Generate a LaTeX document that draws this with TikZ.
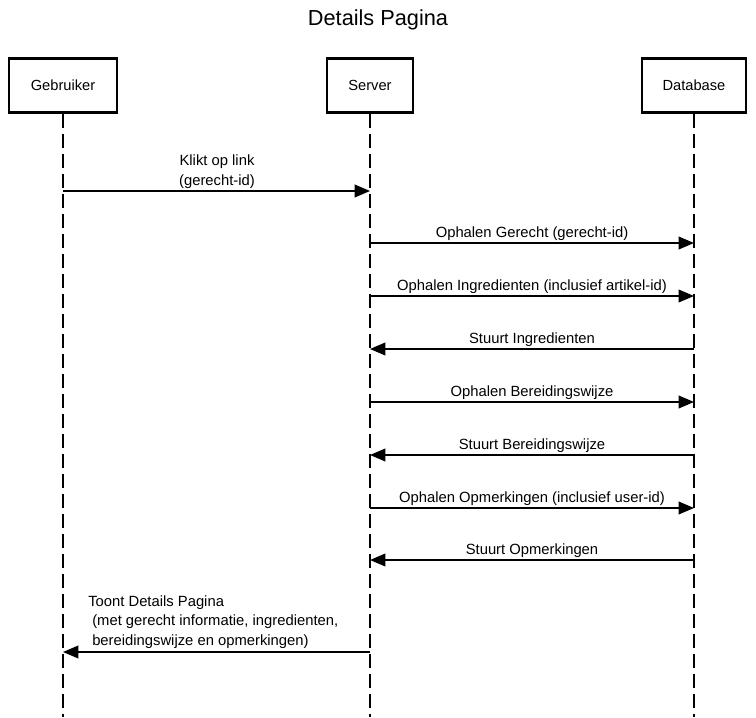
\documentclass[tikz,border=0pt]{standalone}
\usepackage{fontspec}
\setmainfont{Liberation Sans}
\usetikzlibrary{arrows.meta}
\begin{document}
\begin{tikzpicture}[x=0.75pt,y=-0.75pt,
 actor/.style={draw, line width=2.2pt, minimum height=40pt, font=\fontsize{11}{12}\selectfont, inner sep=0pt},
 life/.style={line width=1.1pt, dash pattern=on 10.5pt off 4.5pt},
 msg/.style={line width=1.2pt, -{Triangle[length=11.5pt,width=9.5pt]}},
 lbl/.style={font=\fontsize{11.1}{14.6}\selectfont, inner sep=0pt}]
\useasboundingbox[fill=white] (0,0) rectangle (756,717);
\node[font=\fontsize{16.3}{19}\selectfont] (title) at (378,20) {Details Pagina};
\node[actor, minimum width=81pt] (g) at (63,85.5) {Gebruiker};
\node[actor, minimum width=64.5pt] (s) at (370,85.5) {Server};
\node[actor, minimum width=78pt] (d) at (694,85.5) {Database};
\coordinate (gend) at (63,717);
\coordinate (send) at (370,717);
\coordinate (dend) at (694,717);
\draw[life] (g.south) -- (gend);
\draw[life] (s.south) -- (send);
\draw[life] (d.south) -- (dend);
% message points
\foreach \n/\y in {1/191,2/243,3/296,4/349,5/402,6/455,7/508,8/560,9/652}{
  \coordinate (g\n) at (63,\y);
  \coordinate (s\n) at (370,\y);
  \coordinate (d\n) at (694,\y);
}
\draw[msg] (g1) -- (s1);
\node[lbl, align=center, anchor=base] (l1) at (217,185) {Klikt op link\\(gerecht-id)};
\draw[msg] (s2) -- (d2);
\node[lbl, anchor=base] (l2) at (532,237) {Ophalen Gerecht (gerecht-id)};
\draw[msg] (s3) -- (d3);
\node[lbl, anchor=base] (l3) at (532,290) {Ophalen Ingredienten (inclusief artikel-id)};
\draw[msg] (d4) -- (s4);
\node[lbl, anchor=base] (l4) at (532,343) {Stuurt Ingredienten};
\draw[msg] (s5) -- (d5);
\node[lbl, anchor=base] (l5) at (532,396) {Ophalen Bereidingswijze};
\draw[msg] (d6) -- (s6);
\node[lbl, anchor=base] (l6) at (532,449) {Stuurt Bereidingswijze};
\draw[msg] (s7) -- (d7);
\node[lbl, anchor=base] (l7) at (532,502) {Ophalen Opmerkingen (inclusief user-id)};
\draw[msg] (d8) -- (s8);
\node[lbl, anchor=base] (l8) at (532,554) {Stuurt Opmerkingen};
\draw[msg] (s9) -- (g9);
\node[lbl, align=left, anchor=base west] (l9) at (88,645) {Toont Details Pagina\\\hspace*{3pt}(met gerecht informatie, ingredienten,\\\hspace*{3pt}bereidingswijze en opmerkingen)};
\end{tikzpicture}
\end{document}
